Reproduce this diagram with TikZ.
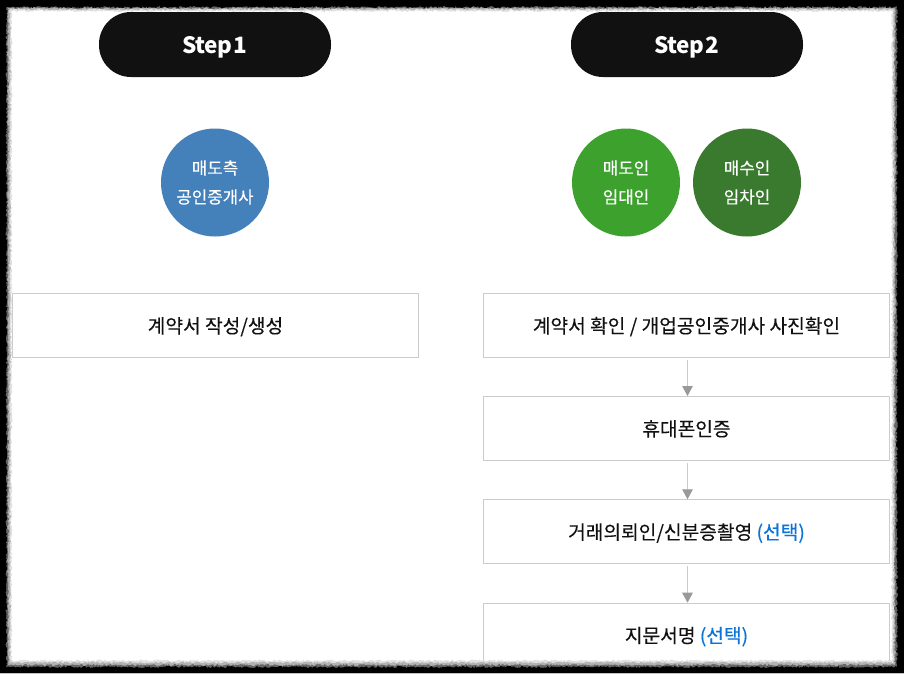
\documentclass[tikz,border=0pt]{standalone}
\usepackage{fontspec}
\setmainfont{Noto Sans CJK KR}
\newfontfamily\boxfont[FakeBold=0.2]{Noto Sans CJK KR}
\newfontfamily\stepfont[LetterSpace=-3, WordSpace=0.4]{Noto Sans CJK KR}
\usetikzlibrary{arrows.meta, decorations.pathmorphing}
\definecolor{pillblack}{HTML}{111111}
\definecolor{sideblue}{HTML}{4480BA}
\definecolor{brightgreen}{HTML}{3DA12E}
\definecolor{darkgreen}{HTML}{3A7A2E}
\definecolor{boxline}{HTML}{CCCCCC}
\definecolor{tipgray}{HTML}{999999}
\definecolor{choiceblue}{HTML}{0A74D9}
\tikzset{
  pill/.style={fill=pillblack, text=white, rounded corners=32pt, minimum width=232pt, minimum height=65pt, inner sep=0pt, text height=17.6pt, text depth=0pt, font=\fontsize{22.5}{26}\selectfont\stepfont\bfseries},
  party/.style={circle, text=white, minimum size=108pt, inner sep=0pt, align=center, font=\fontsize{16.8}{29}\selectfont\boxfont},
  stepbox/.style={draw=boxline, line width=1pt, fill=white, minimum width=406pt, minimum height=64pt, inner sep=0pt, text height=15pt, text depth=0pt, text=pillblack, font=\fontsize{19.2}{22}\selectfont\boxfont},
  link/.style={draw=boxline, line width=1pt, shorten <=1.5pt, -{Triangle[length=10pt, width=10.5pt, color=tipgray]}},
  rough/.style={decoration={random steps, segment length=1.3pt, amplitude=1pt}}
}
\newcommand{\choice}{\textcolor{choiceblue}{(선택)}}

\begin{document}
\begin{tikzpicture}[x=1pt, y=-1pt]
  \useasboundingbox (0,0) rectangle (904,673);
  \fill[white] (0,0) rectangle (904,673);
  % Headers:
  \node[pill] (stepone) at (215,44.5) {Step 1};
  \node[pill] (steptwo) at (687,44.5) {Step 2};
  % Circles:
  \node[party, fill=sideblue] (agent) at (215,182.5) {매도측\\공인중개사};
  \node[party, fill=brightgreen] (seller) at (626,182.5) {매도인\\임대인};
  \node[party, fill=darkgreen] (buyer) at (747,182.5) {매수인\\임차인};
  % Boxes:
  \node[stepbox] (draft) at (215.5,325.5) {계약서 작성/생성};
  \node[stepbox] (check) at (686.5,325.5) {계약서 확인 / 개업공인중개사 사진확인};
  \node[stepbox] (phone) at (686.5,428.5) {휴대폰인증};
  \node[stepbox] (photo) at (686.5,531.8) {거래의뢰인/신분증촬영 \choice};
  \node[stepbox] (sign) at (686.5,635.2) {지문서명 \choice};
  \foreach \a/\b in {check/phone, phone/photo, photo/sign} \draw[link] ([xshift=1pt]\a.south) -- ([xshift=1pt]\b.north);
  % Torn edge, laid over the last box:
  \fill[black!12, even odd rule] (0,0) rectangle (904,673) decorate[rough] {(11.5,11) rectangle (892,660.5)};
  \fill[black!30, even odd rule] (0,0) rectangle (904,673) decorate[rough] {(10,9.5) rectangle (893.5,662.5)};
  \fill[black!60, even odd rule] (0,0) rectangle (904,673) decorate[rough] {(8,8) rectangle (895,665)};
  \fill[black, even odd rule] (0,0) rectangle (904,673) decorate[rough] {(6.5,7) rectangle (897,667)};
\end{tikzpicture}
\end{document}
